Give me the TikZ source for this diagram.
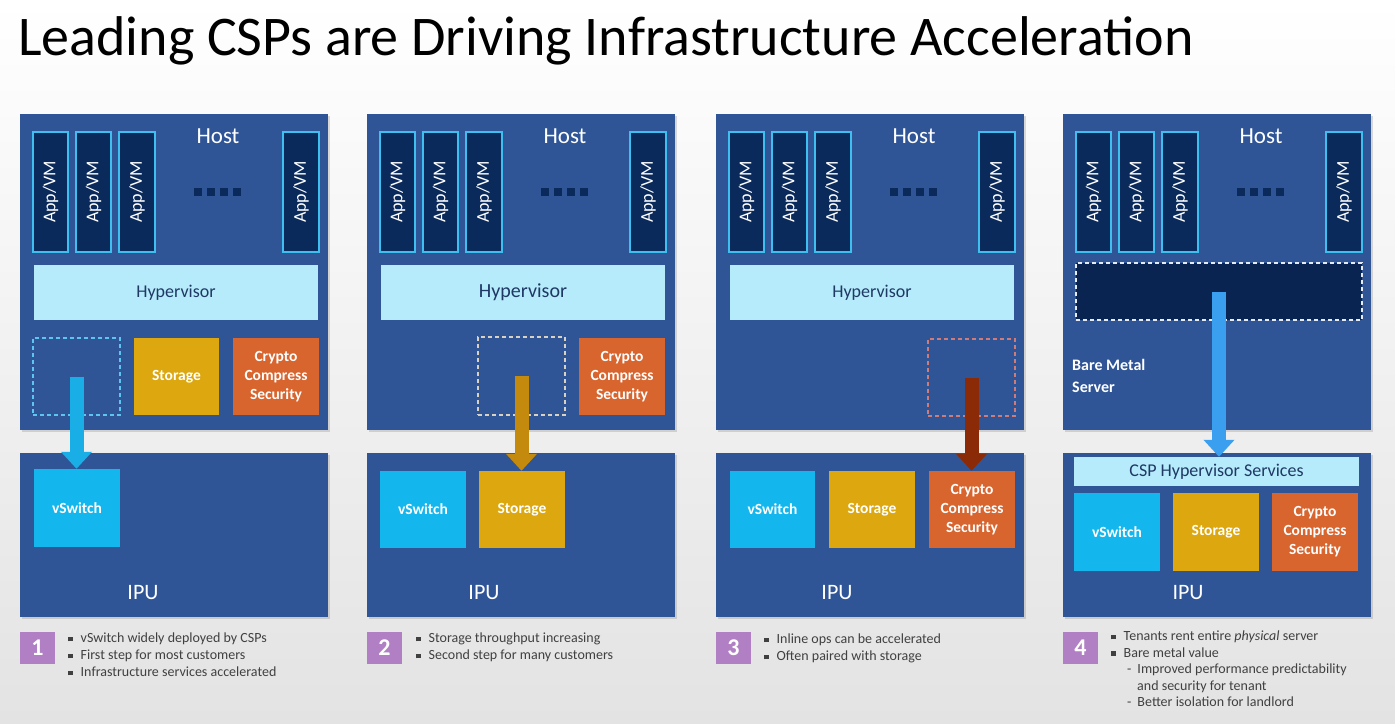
\documentclass[tikz,border=0pt]{standalone}
\usepackage{fontspec}
\setmainfont{Carlito}
\usepackage{graphicx}
\usetikzlibrary{arrows.meta,shadows}

\definecolor{bggray}{HTML}{E3E3E3}
\definecolor{hostblue}{HTML}{2F5597}
\definecolor{navy}{HTML}{0B2A5C}
\definecolor{barenavy}{HTML}{0A2452}
\definecolor{vmedge}{HTML}{3FBFEF}
\definecolor{hypfill}{HTML}{B5EBFA}
\definecolor{hyptext}{HTML}{1F3864}
\definecolor{storfill}{HTML}{DCA70F}
\definecolor{cryptfill}{HTML}{D8642E}
\definecolor{vswfill}{HTML}{14B6EE}
\definecolor{numpurple}{HTML}{B07FC4}
\definecolor{listgray}{HTML}{404040}
\definecolor{arrowA}{HTML}{19AEE6}
\definecolor{arrowB}{HTML}{C48A0E}
\definecolor{arrowC}{HTML}{8A2A06}
\definecolor{arrowD}{HTML}{3A9FEF}
\definecolor{dashA}{HTML}{5EC4F2}
\definecolor{dashB}{HTML}{D9D2C2}
\definecolor{dashC}{HTML}{CF7C78}
\definecolor{dashD}{HTML}{E6ECF5}

% box from corner (x1,y1) to (x2,y2), pixel units, y downwards
\newcommand\bx[8][]{%
  \node[#2,inner sep=0pt,minimum width={((#5)-(#3))*1pt},
        minimum height={((#6)-(#4))*1pt},#1]
       (#7) at ({((#3)+(#5))/2},{((#4)+(#6))/2}) {#8};}
\newcommand\sqb{\raisebox{0.22ex}{\rule{4.5pt}{4.5pt}}\hspace{8pt}}
\newcommand\vmtext{\rotatebox{90}{App/VM}}

\tikzset{
  blk/.style={fill=hostblue,drop shadow={opacity=0.28,shadow xshift=2pt,shadow yshift=-2pt}},
  vm/.style={fill=navy,draw=vmedge,line width=1.3pt,text=white,font=\fontsize{18}{18}\selectfont},
  hyp/.style={fill=hypfill,text=hyptext,font=\fontsize{18}{18}\selectfont},
  svc/.style={text=white,font=\bfseries\fontsize{15.5}{19}\selectfont,align=center},
  stor/.style={svc,fill=storfill},
  cryp/.style={svc,fill=cryptfill},
  vsw/.style={svc,fill=vswfill},
  ghost/.style={dashed,dash pattern=on 4pt off 3pt,line width=1.2pt},
  num/.style={fill=numpurple,text=white,font=\bfseries\fontsize{24}{24}\selectfont},
  lbl/.style={text=white,inner sep=0pt},
  listtxt/.style={anchor=north west,inner sep=0pt,align=left,text=listgray,
                  font=\fontsize{14}{17}\selectfont},
  blockarrow/.style={line width=14pt,-{Triangle[width=30pt 0 0,length=17pt 0 0]}}
}

\begin{document}
\begin{tikzpicture}[x=1pt,y=-1pt]
\useasboundingbox (0,0) rectangle (1395,723);
\fill[top color=white,bottom color=bggray] (0,0) rectangle (1395,723);

\node[anchor=base west,inner sep=0pt,font=\fontsize{56}{56}\selectfont] (title)
  at (18,55) {Leading CSPs are Driving Infrastructure Acceleration};

% common frame of each panel: host with VMs, IPU, step number
\foreach \p/\o/\il in {1/0/143,2/347/484,3/696/837,4/1043/1188} {
  \bx{blk}{20+\o}{114}{328+\o}{430}{host\p}{}
  \bx{blk}{20+\o}{453}{328+\o}{617}{ipu\p}{}
  \node[lbl,font=\fontsize{23}{23}\selectfont] (hostlbl\p) at (218+\o,136) {Host};
  \node[lbl,font=\fontsize{22}{22}\selectfont] (ipulbl\p) at (\il,593) {IPU};
  \bx{vm}{33+\o}{132}{68+\o}{252}{vm\p a}{\vmtext}
  \bx{vm}{76+\o}{132}{111+\o}{252}{vm\p b}{\vmtext}
  \bx{vm}{119+\o}{132}{155+\o}{252}{vm\p c}{\vmtext}
  \bx{vm}{283+\o}{132}{319+\o}{252}{vm\p d}{\vmtext}
  \node[inner sep=0pt,text=navy] (dots\p) at (217+\o,192)
    {\rule{8pt}{8pt}\hspace{5pt}\rule{8pt}{8pt}\hspace{5pt}\rule{8pt}{8pt}\hspace{5pt}\rule{8pt}{8pt}};
  \bx{num}{20+\o}{632}{55+\o}{664}{num\p}{\p}
}

% ---- panel 1: vSwitch offload
\bx{hyp}{34}{265}{318}{320}{hyp1}{Hypervisor}
\bx[draw=dashA,ghost]{}{33}{338}{120}{415}{old1}{}
\bx{stor}{134}{338}{219}{415}{stor1h}{Storage}
\bx{cryp}{233}{338}{319}{415}{cryp1h}{Crypto\\Compress\\Security}
\bx{vsw}{34}{469}{120}{547}{vsw1}{vSwitch}
\draw[blockarrow,arrowA] (old1.center) -- (old1.center |- vsw1.north);
\node[listtxt] (list1) at (68,633)
  {\sqb vSwitch widely deployed by CSPs\\ \sqb First step for most customers\\ \sqb Infrastructure services accelerated};

% ---- panel 2: storage offload
\bx[font=\fontsize{20}{20}\selectfont]{hyp}{381}{265}{665}{320}{hyp2}{Hypervisor}
\bx[draw=dashB,ghost]{}{478}{337}{565}{415}{old2}{}
\bx{cryp}{579}{338}{665}{415}{cryp2h}{Crypto\\Compress\\Security}
\bx{vsw}{380}{471}{466}{548}{vsw2}{vSwitch}
\bx{stor}{479}{471}{565}{548}{stor2}{Storage}
\draw[blockarrow,arrowB] (old2.center) -- (old2.center |- stor2.north);
\node[listtxt] (list2) at (416,633)
  {\sqb Storage throughput increasing\\ \sqb Second step for many customers};

% ---- panel 3: inline crypto offload
\bx{hyp}{730}{265}{1014}{320}{hyp3}{Hypervisor}
\bx[draw=dashC,ghost]{}{928}{339}{1015}{416}{old3}{}
\bx{vsw}{730}{471}{815}{548}{vsw3}{vSwitch}
\bx{stor}{829}{471}{915}{548}{stor3}{Storage}
\bx{cryp}{929}{471}{1015}{548}{cryp3}{Crypto\\Compress\\Security}
\draw[blockarrow,arrowC] (old3.center) -- (old3.center |- cryp3.north);
\node[listtxt] (list3) at (764,634)
  {\sqb Inline ops can be accelerated\\ \sqb Often paired with storage};

% ---- panel 4: bare metal, hypervisor moved to the IPU
\bx[draw=dashD,ghost,fill=barenavy]{}{1076}{263}{1362}{320}{bare4}{}
\node[lbl,anchor=west,align=left,font=\bfseries\fontsize{16}{22}\selectfont] (bmlbl)
  at (1072,376) {Bare Metal\\Server};
\bx{hyp}{1074}{457}{1359}{486}{csp4}{CSP Hypervisor Services}
\bx{vsw}{1074}{493}{1160}{571}{vsw4}{vSwitch}
\bx{stor}{1173}{493}{1259}{571}{stor4}{Storage}
\bx{cryp}{1272}{493}{1358}{571}{cryp4}{Crypto\\Compress\\Security}
\draw[blockarrow,arrowD] (bare4.center) -- (bare4.center |- csp4.north);
\node[listtxt,font=\fontsize{14}{16.5}\selectfont] (list4) at (1111,631)
  {\sqb Tenants rent entire \textit{physical} server\\
   \sqb Bare metal value\\
   \hspace*{16pt}-\hspace{6pt}Improved performance predictability\\
   \hspace*{26pt}and security for tenant\\
   \hspace*{16pt}-\hspace{6pt}Better isolation for landlord};
\end{tikzpicture}
\end{document}
